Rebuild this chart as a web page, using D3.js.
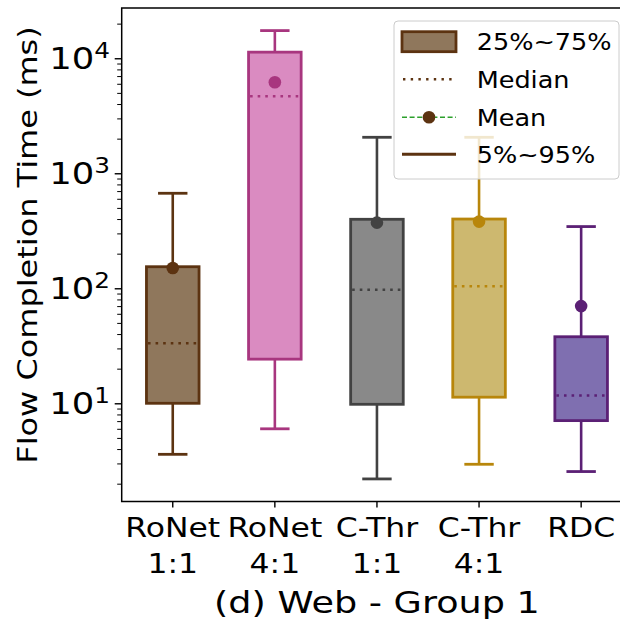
<!DOCTYPE html>
<html>

<head>
    <meta charset="utf-8">
    <style>
        body {
            margin: 0;
            background: #fff;
        }

        svg {
            display: block;
            font-family: "DejaVu Sans", sans-serif;
        }

        .axis .domain {
            display: none;
        }

        .axis .tick line {
            stroke: #000;
        }

        .axis .tick text {
            display: none;
        }
    </style>
</head>

<body>
    <svg width="620" height="622"></svg>
</body>

<script src="https://d3js.org/d3.v7.min.js"></script>

<script>
    // data
    let categories = ["RoNet 1:1", "RoNet 4:1", "C-Thr 1:1", "C-Thr 4:1", "RDC"]
    let catLines = [["RoNet", "1:1"], ["RoNet", "4:1"], ["C-Thr", "1:1"], ["C-Thr", "4:1"], ["RDC", ""]]

    let p5 = [3.6, 6.0, 2.2, 2.95, 2.55]
    let q1 = [10.0, 24.2, 9.8, 11.3, 7.07]
    let median = [33.3, 4680, 97, 104, 11.7]
    let mean = [150, 6180, 372, 380, 70]
    let q3 = [154, 11300, 398, 400, 37.9]
    let p95 = [670, 17400, 2055, 2055, 344]

    let majorTicks = [10, 100, 1000, 10000]
    let majorExp = ["1", "2", "3", "4"]

    let legendLabels = ["25%~75%", "Median", "Mean", "5%~95%"]

    // colours as in the original
    let edgeColors = ["#5c3311", "#a8367f", "#424242", "#b8860b", "#5b2075"]
    let fillColors = ["#8f775c", "#da8bc1", "#898989", "#cdb86f", "#7f6fb0"]

    let width = 620;
    let height = 622;

    // axes box (right edge runs past the window like in the original)
    let margin = { top: 8, left: 121.7, bottom: 501.5, right: 632.2 }
    let stretch = 1.21  // the glyphs in the picture are wider than DejaVu

    let svg = d3.select("svg")

    let data = categories.map((c, i) => ({
        cat: c,
        lines: catLines[i],
        p5: p5[i], q1: q1[i], median: median[i], mean: mean[i], q3: q3[i], p95: p95[i],
        edge: edgeColors[i], fill: fillColors[i]
    }))

    let x = d3.scaleBand()
        .domain(categories)
        .range([margin.left, margin.right])
        .padding(0)

    let y = d3.scaleLog()
        .domain([1.4, 27350])
        .range([margin.bottom, margin.top])

    let cx = d => x(d.cat) + x.bandwidth() / 2
    let boxW = x.bandwidth() * 0.515
    let capW = x.bandwidth() * 0.288

    // helper: text stretched along its baseline
    function stretchText(g, tx, ty, size, sx, rot) {
        return g.append("text")
            .attr("transform", `translate(${tx},${ty})` + (rot ? ` rotate(${rot})` : "") + ` scale(${sx},1)`)
            .style("font-size", size + "px")
            .attr("fill", "#000")
    }

    // minor + major y ticks
    let minorTicks = y.ticks().filter(v => majorTicks.indexOf(v) < 0 && !Number.isInteger(Math.log10(v)))

    svg.append("g")
        .attr("class", "axis")
        .attr("transform", `translate(${margin.left},0)`)
        .call(d3.axisLeft(y).tickValues(minorTicks).tickSize(4.5).tickFormat(""))
        .call(g => g.selectAll(".tick line").attr("stroke-width", 1))

    svg.append("g")
        .attr("class", "axis")
        .attr("transform", `translate(${margin.left},0)`)
        .call(d3.axisLeft(y).tickValues(majorTicks).tickSize(7).tickFormat(""))
        .call(g => g.selectAll(".tick line").attr("stroke-width", 1.4))

    majorTicks.forEach((v, i) => {
        let t = stretchText(svg, 110, y(v) + 11, 29.5, 1.2)
            .attr("text-anchor", "end")
        t.append("tspan").text("10")
        t.append("tspan").text(majorExp[i])
            .attr("dy", -11)
            .style("font-size", "20.6px")
    })

    // x ticks
    svg.append("g")
        .attr("class", "axis")
        .attr("transform", `translate(0,${margin.bottom})`)
        .call(d3.axisBottom(x).tickSize(6).tickFormat(""))
        .call(g => g.selectAll(".tick line").attr("stroke-width", 1.4))

    data.forEach(d => {
        stretchText(svg, cx(d), 537.3, 26, stretch)
            .attr("text-anchor", "middle")
            .text(d.lines[0])
        stretchText(svg, cx(d), 572.5, 26, stretch)
            .attr("text-anchor", "middle")
            .text(d.lines[1])
    })

    // whiskers
    let boxes = svg.append("g")
        .selectAll("g")
        .data(data)
        .join("g")

    boxes.append("line")
        .attr("x1", cx).attr("x2", cx)
        .attr("y1", d => y(d.p95)).attr("y2", d => y(d.q3))
        .attr("stroke", d => d.edge)
        .attr("stroke-width", 2.6)

    boxes.append("line")
        .attr("x1", cx).attr("x2", cx)
        .attr("y1", d => y(d.q1)).attr("y2", d => y(d.p5))
        .attr("stroke", d => d.edge)
        .attr("stroke-width", 2.6)

    boxes.append("line")
        .attr("x1", d => cx(d) - capW / 2).attr("x2", d => cx(d) + capW / 2)
        .attr("y1", d => y(d.p95)).attr("y2", d => y(d.p95))
        .attr("stroke", d => d.edge)
        .attr("stroke-width", 2.8)

    boxes.append("line")
        .attr("x1", d => cx(d) - capW / 2).attr("x2", d => cx(d) + capW / 2)
        .attr("y1", d => y(d.p5)).attr("y2", d => y(d.p5))
        .attr("stroke", d => d.edge)
        .attr("stroke-width", 2.8)

    // boxes
    boxes.append("rect")
        .attr("x", d => cx(d) - boxW / 2)
        .attr("width", boxW)
        .attr("y", d => y(d.q3))
        .attr("height", d => y(d.q1) - y(d.q3))
        .attr("fill", d => d.fill)
        .attr("stroke", d => d.edge)
        .attr("stroke-width", 2.8)

    // median
    boxes.append("line")
        .attr("x1", d => cx(d) - boxW / 2 + 1.5).attr("x2", d => cx(d) + boxW / 2)
        .attr("y1", d => y(d.median)).attr("y2", d => y(d.median))
        .attr("stroke", d => d.edge)
        .attr("stroke-width", 2.6)
        .attr("stroke-dasharray", "2.6 5")

    // mean
    boxes.append("circle")
        .attr("cx", cx)
        .attr("cy", d => y(d.mean))
        .attr("r", 6.3)
        .attr("fill", d => d.edge)

    // frame
    svg.append("rect")
        .attr("x", margin.left)
        .attr("y", margin.top)
        .attr("width", margin.right - margin.left)
        .attr("height", margin.bottom - margin.top)
        .attr("fill", "none")
        .attr("stroke", "#000")
        .attr("stroke-width", 1.5)

    // y label
    stretchText(svg, 37.3, 245, 26, 1.23, -90)
        .attr("text-anchor", "middle")
        .text("Flow Completion Time (ms)")

    // x label
    stretchText(svg, (margin.left + margin.right) / 2, 612.5, 29.5, 1.24)
        .attr("text-anchor", "middle")
        .text("(d) Web - Group 1")

    // legend
    let legend = svg.append("g")

    legend.append("rect")
        .attr("x", 394)
        .attr("y", 21)
        .attr("width", 225)
        .attr("height", 158)
        .attr("rx", 4)
        .attr("fill", "#fff")
        .attr("fill-opacity", 0.8)
        .attr("stroke", "#cccccc")
        .attr("stroke-width", 1)

    let lx0 = 402, lx1 = 456
    let rowY = [41.7, 79.3, 117.3, 154.3]

    legend.append("rect")
        .attr("x", lx0).attr("y", rowY[0] - 10)
        .attr("width", lx1 - lx0).attr("height", 20)
        .attr("fill", fillColors[0])
        .attr("stroke", edgeColors[0])
        .attr("stroke-width", 2.8)

    legend.append("line")
        .attr("x1", lx0 + 1).attr("x2", lx1)
        .attr("y1", rowY[1]).attr("y2", rowY[1])
        .attr("stroke", edgeColors[0])
        .attr("stroke-width", 2.4)
        .attr("stroke-dasharray", "2.4 5.3")

    legend.append("line")
        .attr("x1", lx0).attr("x2", lx1)
        .attr("y1", rowY[2]).attr("y2", rowY[2])
        .attr("stroke", "#2ca02c")
        .attr("stroke-width", 1.5)
        .attr("stroke-dasharray", "5 2.6")

    legend.append("circle")
        .attr("cx", (lx0 + lx1) / 2)
        .attr("cy", rowY[2])
        .attr("r", 6.3)
        .attr("fill", edgeColors[0])

    legend.append("line")
        .attr("x1", lx0).attr("x2", lx1)
        .attr("y1", rowY[3]).attr("y2", rowY[3])
        .attr("stroke", edgeColors[0])
        .attr("stroke-width", 3)

    legendLabels.forEach((l, i) => {
        stretchText(legend, 476.7, rowY[i] + 8.5, 23, 1.11)
            .text(l)
    })
</script>

</html>
